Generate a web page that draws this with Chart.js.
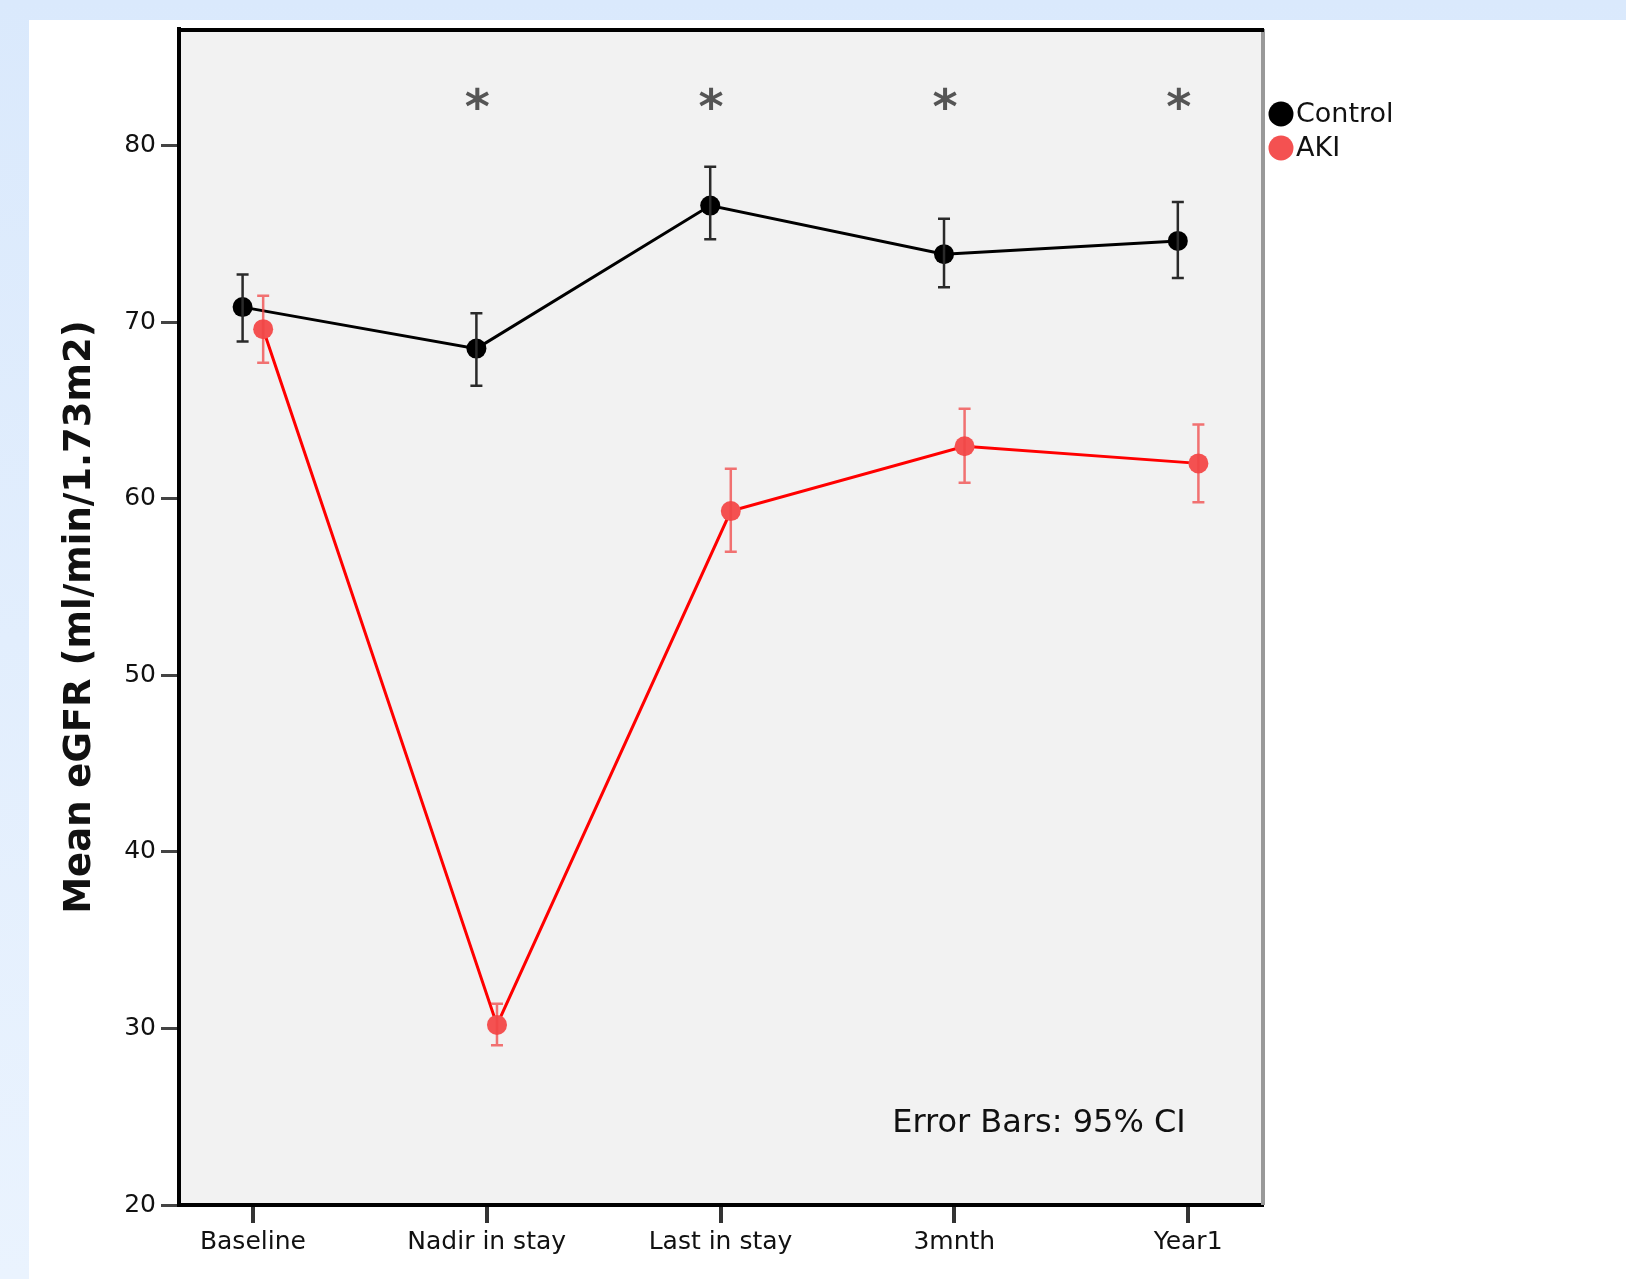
<!DOCTYPE html>
<html>
<head>
<meta charset="utf-8">
<title>Mean eGFR</title>
<script src="https://cdn.jsdelivr.net/npm/chart.js@4.4.1/dist/chart.umd.min.js"></script>
<style>
  html, body { margin: 0; padding: 0; width: 1626px; height: 1279px; overflow: hidden; }
  body { background: linear-gradient(to bottom, #dae9fc 0%, #eaf3fe 100%); position: relative; }
  #panel { position: absolute; left: 29px; top: 20px; right: 0; bottom: 0; background: #fff; }
  #chart { position: absolute; left: 0; top: 0; }
</style>
</head>
<body>
<div id="panel"></div>
<canvas id="chart" width="1626" height="1279"></canvas>
<script>
// 数据
const categories = ['Baseline', 'Nadir in stay', 'Last in stay', '3mnth', 'Year1'];
const controlMean = [70.85, 68.5, 76.6, 73.85, 74.6];
const controlLow  = [68.9, 66.4, 74.7, 71.97, 72.5];
const controlHigh = [72.7, 70.5, 78.8, 75.85, 76.8];
const akiMean = [69.6, 30.2, 59.3, 62.97, 62.0];
const akiLow  = [67.7, 29.05, 57.0, 60.9, 59.8];
const akiHigh = [71.5, 31.4, 61.7, 65.1, 64.2];
const sigMarks = ['', '*', '*', '*', '*'];
const yTicks = [20, 30, 40, 50, 60, 70, 80];

const FONT = '"DejaVu Sans", Verdana, sans-serif';
const shift = 0.044; // 两组点左右错开

function points(values, dx) {
    return values.map((v, i) => ({ x: i + dx, y: v }));
}

const series = [
    { label: 'AKI', mean: akiMean, low: akiLow, high: akiHigh, dx: shift,
      line: '#ff0000', dot: '#f45151', bar: 'rgba(240, 70, 70, 0.75)' },
    { label: 'Control', mean: controlMean, low: controlLow, high: controlHigh, dx: -shift,
      line: '#000000', dot: '#000000', bar: '#2a2a2a' }
];

// 背景、边框、误差线、星号、图例
const extras = {
    id: 'extras',
    beforeDraw(chart) {
        const { ctx, chartArea: a } = chart;
        ctx.save();
        ctx.fillStyle = '#f2f2f2';
        ctx.fillRect(a.left, a.top, a.right - a.left, a.bottom - a.top);
        ctx.restore();
    },
    beforeDatasetsDraw(chart) {
        const { ctx, chartArea: a } = chart;
        ctx.save();
        ctx.strokeStyle = '#999';
        ctx.lineWidth = 4;
        ctx.beginPath();
        ctx.moveTo(a.right + 1, a.top);
        ctx.lineTo(a.right + 1, a.bottom);
        ctx.stroke();
        ctx.strokeStyle = '#000';
        ctx.lineWidth = 4;
        ctx.beginPath();
        ctx.moveTo(a.left - 2, a.top + 1);
        ctx.lineTo(a.right + 2, a.top + 1);
        ctx.stroke();
        ctx.restore();
    },
    afterDatasetsDraw(chart) {
        const { ctx } = chart;
        const xs = chart.scales.x, ys = chart.scales.y;
        ctx.save();
        series.forEach(s => {
            ctx.strokeStyle = s.bar;
            ctx.lineWidth = 2.5;
            s.mean.forEach((m, i) => {
                const px = xs.getPixelForValue(i + s.dx);
                const top = ys.getPixelForValue(s.high[i]);
                const bot = ys.getPixelForValue(s.low[i]);
                ctx.beginPath();
                ctx.moveTo(px, top); ctx.lineTo(px, bot);
                ctx.moveTo(px - 6, top); ctx.lineTo(px + 6, top);
                ctx.moveTo(px - 6, bot); ctx.lineTo(px + 6, bot);
                ctx.stroke();
            });
        });

        // 显著性星号
        ctx.fillStyle = '#555';
        ctx.font = 'bold 48px ' + FONT;
        ctx.textAlign = 'center';
        ctx.textBaseline = 'middle';
        sigMarks.forEach((m, i) => {
            if (!m) return;
            ctx.fillText(m, xs.getPixelForValue(i - 0.04), ys.getPixelForValue(82.0));
        });

        // 注释
        ctx.fillStyle = '#111';
        ctx.font = '32px ' + FONT;
        ctx.textAlign = 'right';
        ctx.fillText('Error Bars: 95% CI', xs.getPixelForValue(3.99), ys.getPixelForValue(24.6));

        // 图例
        const lx = chart.chartArea.right + 19;
        ctx.textAlign = 'left';
        ctx.font = '27px ' + FONT;
        [series[1], series[0]].forEach((s, k) => {
            const ly = chart.chartArea.top + 85 + k * 34;
            ctx.fillStyle = s.dot;
            ctx.beginPath();
            ctx.arc(lx, ly, 12.5, 0, Math.PI * 2);
            ctx.fill();
            ctx.fillStyle = '#111';
            ctx.fillText(s.label, lx + 15, ly + 1);
        });
        ctx.restore();
    }
};

const chart = new Chart(document.getElementById('chart'), {
    type: 'line',
    data: {
        datasets: series.map(s => ({
            label: s.label,
            data: points(s.mean, s.dx),
            borderColor: s.line,
            borderWidth: 3,
            pointRadius: 10,
            pointBorderWidth: 0,
            pointBackgroundColor: s.dot,
            tension: 0
        }))
    },
    options: {
        responsive: false,
        animation: false,
        layout: { padding: { left: 0, top: 29, right: 364, bottom: 0 } },
        plugins: { legend: { display: false }, tooltip: { enabled: false } },
        scales: {
            x: {
                type: 'linear',
                min: -0.316,
                max: 4.316,
                afterFit(scale) { scale.height = 74; },
                afterBuildTicks(scale) { scale.ticks = categories.map((c, i) => ({ value: i })); },
                ticks: {
                    callback: v => categories[v],
                    color: '#111',
                    font: { family: FONT, size: 25 },
                    padding: 4,
                    maxRotation: 0,
                    autoSkip: false
                },
                grid: { drawOnChartArea: false, drawTicks: true, tickLength: 18, color: '#333', lineWidth: 4 },
                border: { display: true, color: '#000', width: 4 }
            },
            y: {
                min: 20,
                max: 86.6,
                afterFit(scale) { scale.width = 179; },
                afterBuildTicks(scale) { scale.ticks = yTicks.map(v => ({ value: v })); },
                ticks: {
                    color: '#111',
                    font: { family: FONT, size: 25 },
                    padding: 5
                },
                grid: { drawOnChartArea: false, drawTicks: true, tickLength: 18, color: '#444', lineWidth: 3 },
                border: { display: true, color: '#000', width: 4 },
                title: {
                    display: true,
                    text: 'Mean eGFR (ml/min/1.73m2)',
                    color: '#111',
                    font: { family: FONT, size: 37, weight: 'bold' },
                    padding: { top: 58, bottom: 0 }
                }
            }
        }
    },
    plugins: [extras]
});
</script>
</body>
</html>
